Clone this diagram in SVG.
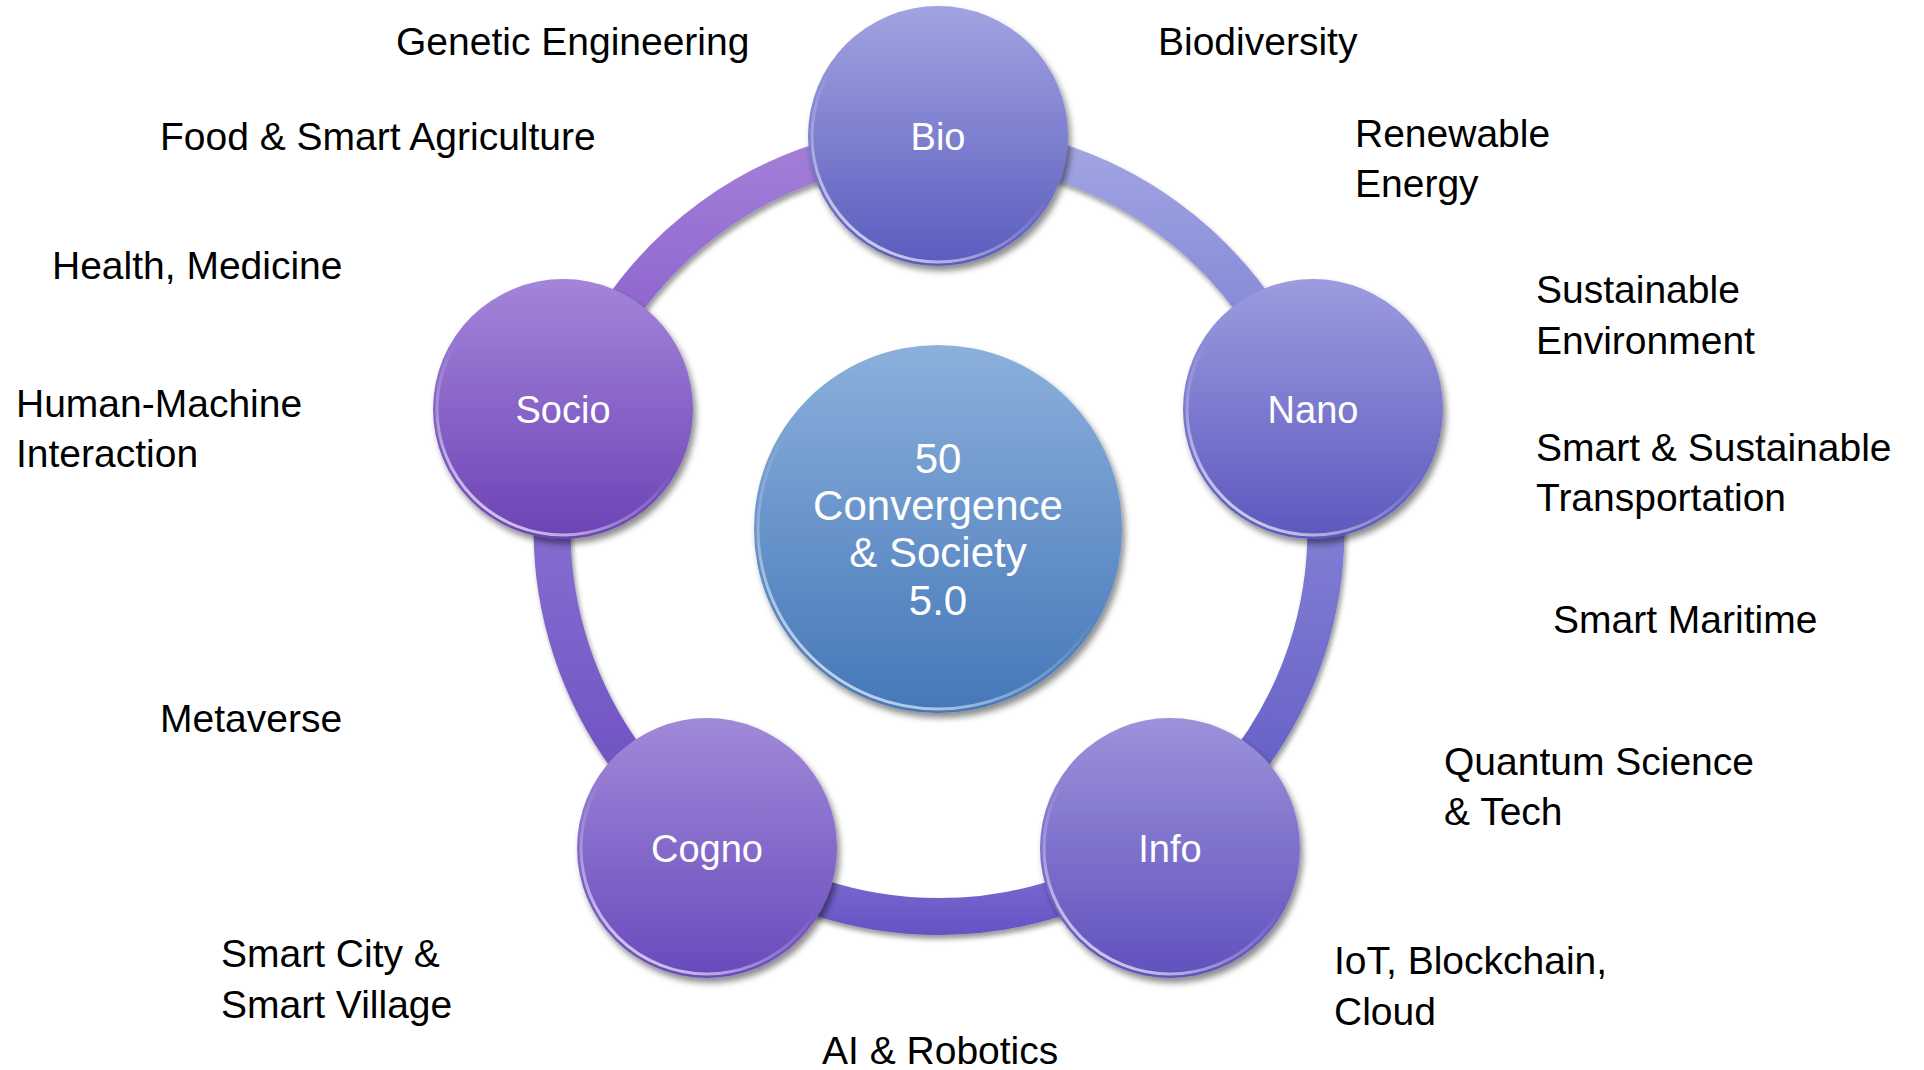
<svg xmlns="http://www.w3.org/2000/svg" width="1924" height="1070" viewBox="0 0 1924 1070">
<defs>
  <filter id="shadow" x="-20%" y="-20%" width="140%" height="140%">
    <feDropShadow dx="3" dy="5" stdDeviation="3" flood-color="#000" flood-opacity="0.45"/>
  </filter>
  <filter id="ringShadow" x="-10%" y="-10%" width="120%" height="120%">
    <feDropShadow dx="2" dy="4" stdDeviation="2.5" flood-color="#000" flood-opacity="0.4"/>
  </filter>
  <linearGradient id="gBio" x1="0" y1="0" x2="0" y2="1"><stop offset="0" stop-color="#a1a3e1"/><stop offset="1" stop-color="#5a5cbe"/></linearGradient>
  <linearGradient id="gNano" x1="0" y1="0" x2="0" y2="1"><stop offset="0" stop-color="#9c9cdf"/><stop offset="1" stop-color="#5c57be"/></linearGradient>
  <linearGradient id="gInfo" x1="0" y1="0" x2="0" y2="1"><stop offset="0" stop-color="#9c92db"/><stop offset="1" stop-color="#6051bd"/></linearGradient>
  <linearGradient id="gCogno" x1="0" y1="0" x2="0" y2="1"><stop offset="0" stop-color="#a189d9"/><stop offset="1" stop-color="#694abc"/></linearGradient>
  <linearGradient id="gSocio" x1="0" y1="0" x2="0" y2="1"><stop offset="0" stop-color="#a385d9"/><stop offset="1" stop-color="#6c43b6"/></linearGradient>
  <linearGradient id="gCenter" x1="0" y1="0" x2="0" y2="1"><stop offset="0" stop-color="#8bb0db"/><stop offset="1" stop-color="#4577b9"/></linearGradient>
  <linearGradient id="rim2" x1="0" y1="1" x2="0.6" y2="0">
    <stop offset="0" stop-color="#fff" stop-opacity="0.95"/>
    <stop offset="0.35" stop-color="#fff" stop-opacity="0.3"/>
    <stop offset="0.6" stop-color="#fff" stop-opacity="0"/>
  </linearGradient>
  <linearGradient id="sSB" gradientUnits="userSpaceOnUse" x1="0" y1="140" x2="0" y2="420"><stop offset="0" stop-color="#a37fd9"/><stop offset="1" stop-color="#8358c6"/></linearGradient>
  <linearGradient id="sBN" gradientUnits="userSpaceOnUse" x1="0" y1="140" x2="0" y2="420"><stop offset="0" stop-color="#a2a6e3"/><stop offset="1" stop-color="#7679cf"/></linearGradient>
  <linearGradient id="sNI" gradientUnits="userSpaceOnUse" x1="0" y1="420" x2="0" y2="850"><stop offset="0" stop-color="#8c8bd9"/><stop offset="1" stop-color="#5f58c3"/></linearGradient>
  <linearGradient id="sIC" gradientUnits="userSpaceOnUse" x1="0" y1="870" x2="0" y2="940"><stop offset="0" stop-color="#7b6cd2"/><stop offset="1" stop-color="#6550c2"/></linearGradient>
  <linearGradient id="sCS" gradientUnits="userSpaceOnUse" x1="0" y1="420" x2="0" y2="850"><stop offset="0" stop-color="#8d78d5"/><stop offset="1" stop-color="#6a4cbf"/></linearGradient>
</defs>
<style>
  .lbl { font-family: "Liberation Sans", Arial, sans-serif; font-size: 39px; fill: #000; }
  .ntxt { font-family: "Liberation Sans", Arial, sans-serif; font-size: 38px; fill: #fff; text-anchor: middle; }
  .ctxt { font-family: "Liberation Sans", Arial, sans-serif; font-size: 42px; fill: #fff; text-anchor: middle; }
  .seg { fill: none; stroke-width: 37; }
  .rimA { fill: none; stroke: url(#rim2); stroke-width: 3; }
</style>
<rect width="1924" height="1070" fill="#fff"/>

<g id="connectors" filter="url(#ringShadow)">
  <path class="seg" stroke="url(#sSB)" d="M 571 410 A 387 387 0 0 1 939 143"/>
  <path class="seg" stroke="url(#sBN)" d="M 939 143 A 387 387 0 0 1 1307 410"/>
  <path class="seg" stroke="url(#sNI)" d="M 1307 410 A 387 387 0 0 1 1166 843"/>
  <path class="seg" stroke="url(#sIC)" d="M 1166 843 A 387 387 0 0 1 712 843"/>
  <path class="seg" stroke="url(#sCS)" d="M 712 843 A 387 387 0 0 1 571 410"/>
</g>

<g id="node-center">
  <circle cx="938" cy="529" r="184" fill="url(#gCenter)" filter="url(#shadow)"/>
  <circle class="rimA" cx="938" cy="529" r="180"/>
  <text class="ctxt" x="938" y="473">50</text>
  <text class="ctxt" x="938" y="520">Convergence</text>
  <text class="ctxt" x="938" y="567">&amp; Society</text>
  <text class="ctxt" x="938" y="615">5.0</text>
</g>

<g id="node-bio">
  <circle cx="938" cy="136" r="130" fill="url(#gBio)" filter="url(#shadow)"/>
  <circle class="rimA" cx="938" cy="136" r="126"/>
  <text class="ntxt" x="938" y="150">Bio</text>
</g>
<g id="node-nano">
  <circle cx="1313" cy="409" r="130" fill="url(#gNano)" filter="url(#shadow)"/>
  <circle class="rimA" cx="1313" cy="409" r="126"/>
  <text class="ntxt" x="1313" y="423">Nano</text>
</g>
<g id="node-info">
  <circle cx="1170" cy="848" r="130" fill="url(#gInfo)" filter="url(#shadow)"/>
  <circle class="rimA" cx="1170" cy="848" r="126"/>
  <text class="ntxt" x="1170" y="862">Info</text>
</g>
<g id="node-cogno">
  <circle cx="707" cy="848" r="130" fill="url(#gCogno)" filter="url(#shadow)"/>
  <circle class="rimA" cx="707" cy="848" r="126"/>
  <text class="ntxt" x="707" y="862">Cogno</text>
</g>
<g id="node-socio">
  <circle cx="563" cy="409" r="130" fill="url(#gSocio)" filter="url(#shadow)"/>
  <circle class="rimA" cx="563" cy="409" r="126"/>
  <text class="ntxt" x="563" y="423">Socio</text>
</g>

<g id="labels">
  <text class="lbl" x="396" y="55">Genetic Engineering</text>
  <text class="lbl" x="1158" y="55">Biodiversity</text>
  <text class="lbl" x="160" y="150">Food &amp; Smart Agriculture</text>
  <text class="lbl" x="1355" y="147">Renewable</text>
  <text class="lbl" x="1355" y="197">Energy</text>
  <text class="lbl" x="52" y="279">Health, Medicine</text>
  <text class="lbl" x="1536" y="303">Sustainable</text>
  <text class="lbl" x="1536" y="354">Environment</text>
  <text class="lbl" x="16" y="417">Human-Machine</text>
  <text class="lbl" x="16" y="467">Interaction</text>
  <text class="lbl" x="1536" y="461">Smart &amp; Sustainable</text>
  <text class="lbl" x="1536" y="511">Transportation</text>
  <text class="lbl" x="1553" y="633">Smart Maritime</text>
  <text class="lbl" x="160" y="732">Metaverse</text>
  <text class="lbl" x="1444" y="775">Quantum Science</text>
  <text class="lbl" x="1444" y="825">&amp; Tech</text>
  <text class="lbl" x="221" y="967">Smart City &amp;</text>
  <text class="lbl" x="221" y="1018">Smart Village</text>
  <text class="lbl" x="1334" y="974">IoT, Blockchain,</text>
  <text class="lbl" x="1334" y="1025">Cloud</text>
  <text class="lbl" x="822" y="1064">AI &amp; Robotics</text>
</g>
</svg>
